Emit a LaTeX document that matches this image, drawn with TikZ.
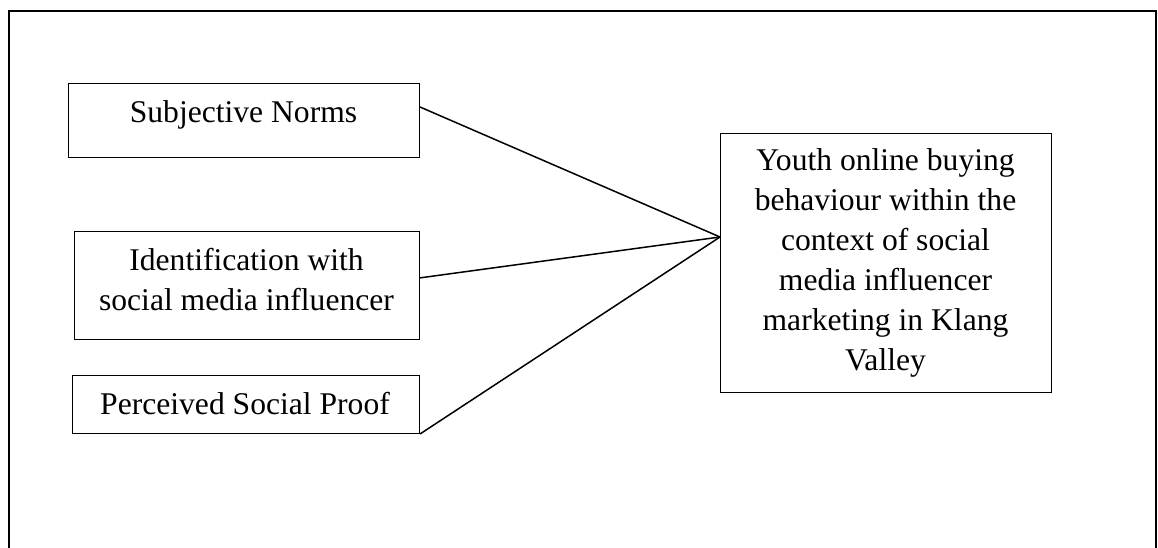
\documentclass[tikz,border=0pt]{standalone}
\usepackage{fontspec}
\setmainfont{Liberation Serif}
\usetikzlibrary{calc}

\begin{document}
\begin{tikzpicture}[x=1pt,y=-1pt,
  box/.style={draw,line width=1pt,rectangle,anchor=north west,inner sep=0pt},
  lbl/.style={anchor=base,align=center,inner sep=0pt,font=\fontsize{31.6}{40}\selectfont},
  link/.style={line width=1.5pt}]
\useasboundingbox (0,0) rectangle (1158,548);
\draw[line width=2pt] (9,548) -- (9,11) -- (1156,11) -- (1156,548);
% boxes on the left and the outcome box
\node[box,minimum width=351pt,minimum height=74pt] (sn) at (68,83) {};
\node[box,minimum width=345pt,minimum height=108pt] (iw) at (74,231) {};
\node[box,minimum width=347pt,minimum height=58pt] (sp) at (72,375) {};
\node[box,minimum width=331pt,minimum height=259pt] (yb) at (720,133) {};
% labels sit on the baseline of their last line
\node[lbl] (tsn) at (243.5,123) {Subjective Norms};
\node[lbl] (tiw) at (246.5,310) {Identification with\\social media influencer};
\node[lbl] (tsp) at (245,414) {Perceived Social Proof};
\node[lbl] (tyb) at (885.5,370) {Youth online buying\\behaviour within the\\context of social\\media influencer\\marketing in Klang\\Valley};
\coordinate (hub) at ($(yb.north west)!0.4!(yb.south west)$);
\draw[link] ($(sn.north east)!0.32!(sn.south east)$) -- (hub);
\draw[link] ($(iw.north east)!0.43!(iw.south east)$) -- (hub);
\draw[link] (sp.south east) -- (hub);
\end{tikzpicture}
\end{document}
